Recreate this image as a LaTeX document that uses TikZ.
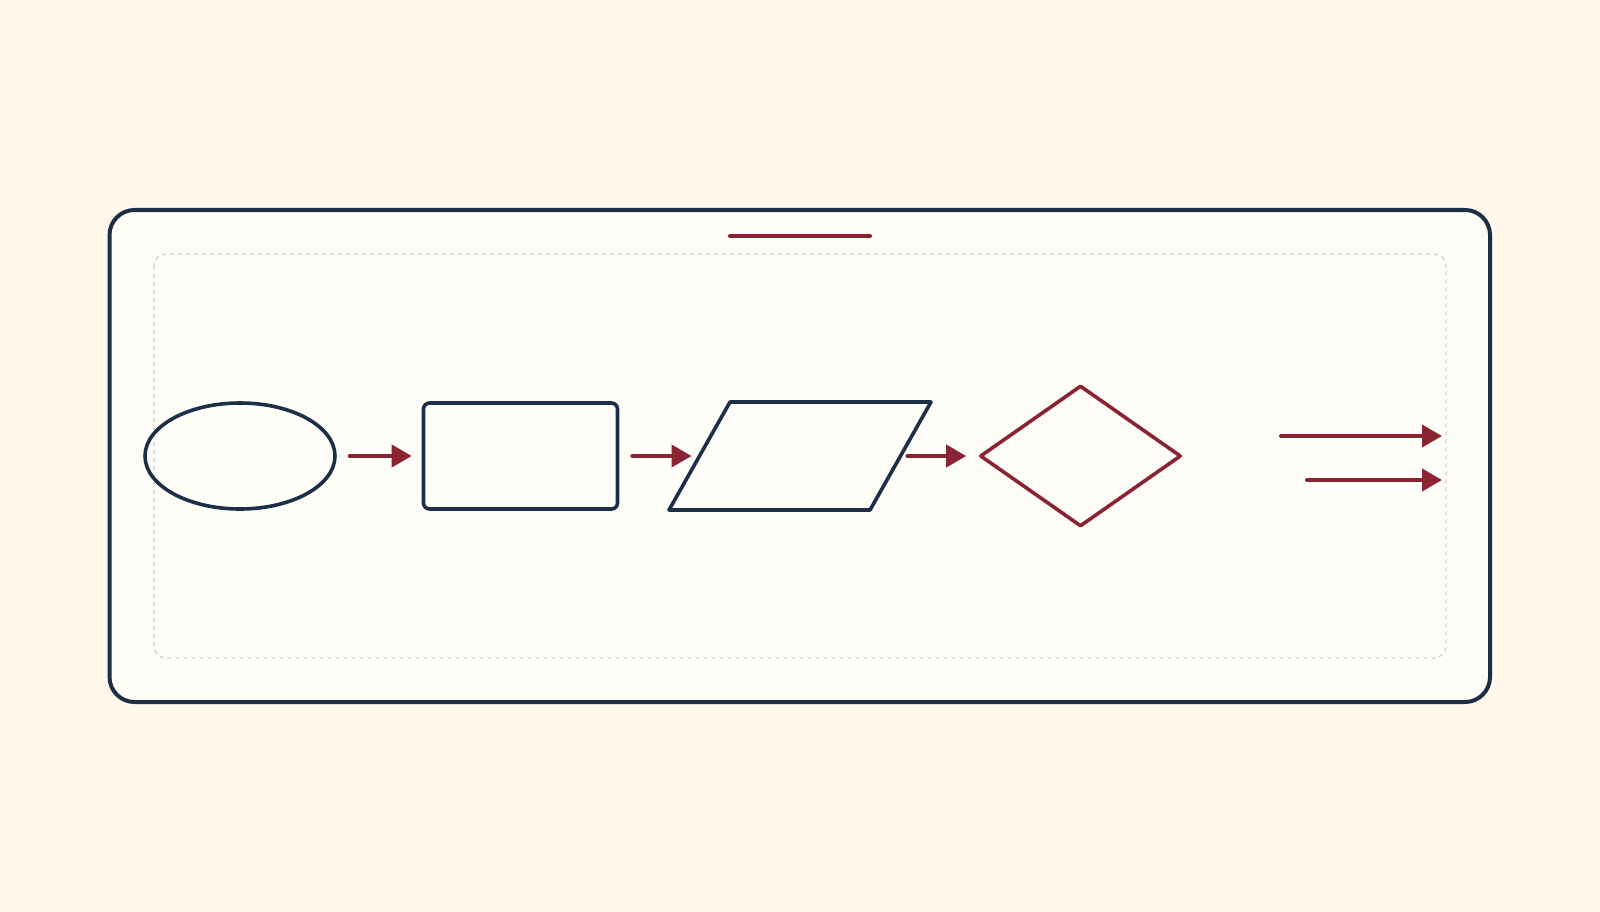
\documentclass[tikz,border=0pt]{standalone}
\usetikzlibrary{shapes.geometric,arrows.meta}
\definecolor{bg}{HTML}{FFF7EA}
\definecolor{panel}{HTML}{FFFDF7}
\definecolor{navy}{HTML}{1C2F47}
\definecolor{wine}{HTML}{8A2433}
\definecolor{dashgray}{HTML}{CFCFCF}
\tikzset{
  navyshape/.style={draw=navy,line width=3.6pt,inner sep=0pt,line join=round},
  wineshape/.style={draw=wine,line width=3.6pt,inner sep=0pt,line join=round},
  flow/.style={draw=wine,line width=4pt,line cap=round,-{Triangle[length=20pt,width=22pt]}},
}
\begin{document}
\begin{tikzpicture}[x=1pt,y=-1pt]
\fill[bg] (0,0) rectangle (1600,912);
\useasboundingbox (0,0) rectangle (1600,912);
% outer frame
\draw[navy,fill=panel,line width=4pt,rounded corners=25pt] (109.5,210) rectangle (1490,702);
% inner dashed area
\draw[dashgray,line width=1.3pt,dash pattern=on 4pt off 4pt,rounded corners=12pt] (154,254) rectangle (1446,658);
% title bar
\coordinate (tl) at (730,236);
\coordinate (tr) at (870,236);
\draw[wine,line width=4pt,line cap=round] (tl) -- (tr);
% shapes
\node[navyshape,ellipse,minimum width=190pt,minimum height=106pt] (start) at (240,456) {};
\node[navyshape,rectangle,rounded corners=6pt,minimum width=194pt,minimum height=106pt] (proc) at (520.5,456) {};
\coordinate (ioA) at (730,402);
\coordinate (ioB) at (931,402);
\coordinate (ioC) at (870,510);
\coordinate (ioD) at (669,510);
\coordinate (iowest) at (699.5,456);
\coordinate (ioeast) at (900.5,456);
\draw[navy,line width=3.6pt,line join=round] (ioA) -- (ioB) -- (ioC) -- (ioD) -- cycle;
\node[wineshape,diamond,minimum width=201pt,minimum height=141pt] (dec) at (1080.5,456) {};
% connectors
\draw[flow] ([xshift=13pt]start.east) -- ([xshift=-10pt]proc.west);
\draw[flow] ([xshift=13pt]proc.east) -- ([xshift=-8pt]iowest);
\draw[flow] ([xshift=7pt]ioeast) -- ([xshift=-12pt]dec.west);
\coordinate (o1s) at (1281,436);
\coordinate (o1e) at (1442,436);
\coordinate (o2s) at (1307,480);
\coordinate (o2e) at (1442,480);
\draw[flow] (o1s) -- (o1e);
\draw[flow] (o2s) -- (o2e);
\end{tikzpicture}
\end{document}
